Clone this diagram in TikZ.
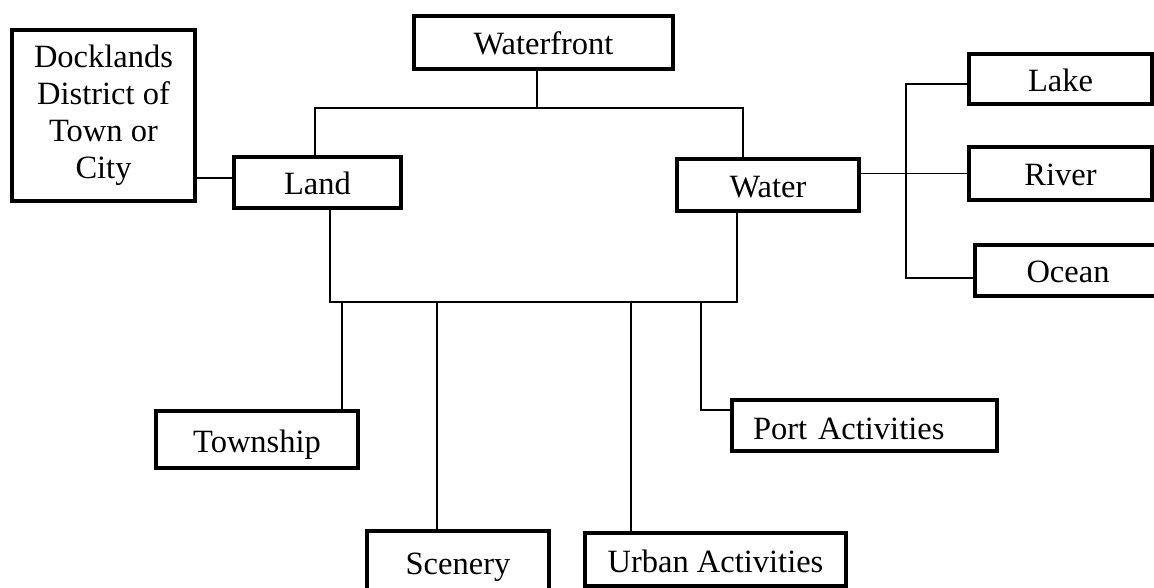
\documentclass[tikz,border=0pt]{standalone}
\usepackage{fontspec}
\setmainfont{Liberation Serif}

\begin{document}
\begin{tikzpicture}
  [
    x=1pt, y=-1pt,
    every node/.style={font=\fontsize{32.5}{37}\selectfont},
    box/.style={draw, line width=4pt, inner sep=0pt, align=center},
    word/.style={box, text height=25pt, text depth=0pt},
    link/.style={line width=1.5pt}
  ]
  \useasboundingbox (0,0) rectangle (1154,588);
  \clip (0,0) rectangle (1154,588);

  \node[word, minimum width=259pt, minimum height=53pt] (waterfront) at (543.5,42.5) {Waterfront};
  \node[box, minimum width=183pt, minimum height=171pt] (docklands) at (103.5,115.5) {Docklands\\District of\\Town or\\City};
  \node[word, minimum width=167pt, minimum height=51pt] (land) at (317.5,182.5) {Land};
  \node[word, minimum width=182pt, minimum height=52pt] (water) at (768,185) {Water};
  \node[word, minimum width=183pt, minimum height=50pt] (lake) at (1060.5,79) {Lake};
  \node[word, minimum width=183pt, minimum height=53pt] (river) at (1060.5,173.5) {River};
  \node[word, minimum width=186pt, minimum height=51pt, text width=86pt] (ocean) at (1068,270.5) {Ocean};
  \node[word, minimum width=202pt, minimum height=57pt] (township) at (257,439.5) {Township};
  \node[word, minimum width=182pt, minimum height=62pt] (scenery) at (458,562) {Scenery};
  \node[word, minimum width=261pt, minimum height=53pt] (urban) at (715.5,559.5) {Urban Activities};
  \node[word, minimum width=265pt, minimum height=51pt, text width=223pt, align=left, text height=28pt] (port) at (864.5,425.5) {Port Activities};

  \coordinate (top) at (537,108);
  \coordinate (land-up) at (315,108);
  \coordinate (water-up) at (743,108);
  \draw[link] (waterfront.south -| top) -- (top);
  \draw[link] (land.north -| land-up) -- (land-up) -- (water-up) -- (water.north -| water-up);

  \coordinate (dock-j) at ([yshift=4.5pt]land.west);
  \draw[link] (dock-j) -- (dock-j -| docklands.east);

  \coordinate (sea-j) at (906,174);
  \draw[link] (water.east |- river.west) -- (river.west);
  \draw[link] ([yshift=-5pt]lake.west) -| (sea-j) |- ([yshift=-7.5pt]ocean.west);

  \coordinate (land-down) at (330,302);
  \coordinate (water-down) at (737,302);
  \draw[link] (land.south -| land-down) -- (land-down) -- (water-down) -- (water.south -| water-down);

  \foreach \n/\x in {township/342, scenery/437, urban/631}
  {
    \coordinate (j) at (\x,302);
    \draw[link] (j) -- (j |- \n.north);
  }
  \coordinate (port-j) at (701,302);
  \draw[link] (port-j) |- ([yshift=15.5pt]port.west);
\end{tikzpicture}
\end{document}
